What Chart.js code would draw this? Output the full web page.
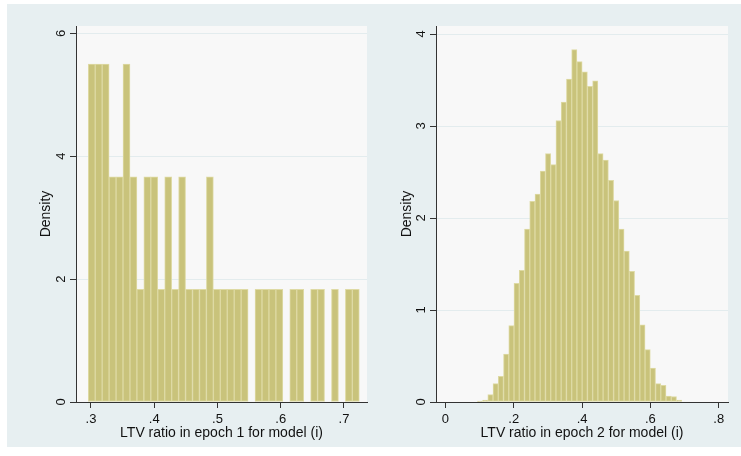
<!DOCTYPE html>
<html>
<head>
<meta charset="utf-8">
<script src="https://cdn.jsdelivr.net/npm/chart.js@4.4.1/dist/chart.umd.min.js"></script>
<style>
  html, body { margin: 0; padding: 0; background: #ffffff; }
  #frame { position: absolute; left: 7px; top: 4px; width: 734px; height: 443px; background: #e7eff1; }
  canvas { position: absolute; top: 4px; }
  #left { left: 7px; }
  #right { left: 370px; }
</style>
</head>
<body>
<div id="frame"></div>
<canvas id="left" width="363" height="443"></canvas>
<canvas id="right" width="371" height="443"></canvas>
<script>
// Epoch 1 histogram: 39 bins, density per bin
const epoch1Start = 0.2957;
const epoch1Width = 0.010987;
const epoch1Density = [5.5, 5.5, 5.5, 3.667, 3.667, 5.5, 3.667, 1.833, 3.667, 3.667,
  1.833, 3.667, 1.833, 3.667, 1.833, 1.833, 1.833, 3.667, 1.833, 1.833,
  1.833, 1.833, 1.833, 0, 1.833, 1.833, 1.833, 1.833, 0, 1.833,
  1.833, 0, 1.833, 1.833, 0, 1.833, 0, 1.833, 1.833];
const epoch1XTicks = [0.3, 0.4, 0.5, 0.6, 0.7];
const epoch1XLabels = ['.3', '.4', '.5', '.6', '.7'];
const epoch1YTicks = [0, 2, 4, 6];
const epoch1YLabels = ['0', '2', '4', '6'];

// Epoch 2 histogram: 39 bins, density per bin
const epoch2Start = 0.0934;
const epoch2Width = 0.01534;
const epoch2Density = [0.01, 0.02, 0.08, 0.20, 0.28, 0.52, 0.83, 1.29, 1.43, 1.88,
  2.18, 2.26, 2.51, 2.70, 2.58, 3.06, 3.26, 3.51, 3.83, 3.70,
  3.59, 3.43, 3.49, 2.70, 2.63, 2.41, 2.19, 1.88, 1.64, 1.42,
  1.16, 0.84, 0.57, 0.37, 0.20, 0.18, 0.065, 0.06, 0.02];
const epoch2XTicks = [0, 0.2, 0.4, 0.6, 0.8];
const epoch2XLabels = ['0', '.2', '.4', '.6', '.8'];
const epoch2YTicks = [0, 1, 2, 3, 4];
const epoch2YLabels = ['0', '1', '2', '3', '4'];

const FONT = 'Liberation Sans, Arial, sans-serif';

// light plot region behind the bars
const plotBg = {
  id: 'plotBg',
  beforeDraw(chart) {
    const { ctx, chartArea: a } = chart;
    ctx.save();
    ctx.fillStyle = '#f8f8f8';
    ctx.fillRect(a.left, a.top, a.right - a.left, a.bottom - a.top);
    ctx.restore();
  }
};

function binPoints(start, width, values) {
  return values.map((v, i) => ({ x: start + (i + 0.5) * width, y: v }));
}

function makeHist(canvasId, opts) {
  return new Chart(document.getElementById(canvasId), {
    type: 'bar',
    data: {
      datasets: [{
        data: binPoints(opts.start, opts.width, opts.density),
        backgroundColor: '#c9c37b',
        borderColor: '#dedaa4',
        borderWidth: 1,
        borderSkipped: false,
        barPercentage: 1,
        categoryPercentage: 1
      }]
    },
    options: {
      responsive: false,
      animation: false,
      devicePixelRatio: 1,
      layout: { padding: { top: 22, right: opts.padRight, left: 0, bottom: 0 } },
      plugins: { legend: { display: false }, tooltip: { enabled: false } },
      scales: {
        x: {
          type: 'linear',
          offset: false,
          min: opts.xMin,
          max: opts.xMax,
          afterFit: s => { s.height = 45; },
          afterBuildTicks: s => { s.ticks = opts.xTicks.map(v => ({ value: v })); },
          grid: { offset: false, drawOnChartArea: false, drawTicks: true, tickLength: 6, tickColor: '#333' },
          border: { display: true, color: '#333', width: 1 },
          ticks: {
            autoSkip: false, maxRotation: 0, padding: 4, color: '#111',
            font: { family: FONT, size: 13 },
            callback: (v) => opts.xLabels[opts.xTicks.findIndex(t => Math.abs(t - v) < 1e-6)]
          },
          title: {
            display: true, text: opts.xTitle, color: '#111',
            font: { family: FONT, size: 14 }, padding: { top: 0, bottom: 5 }
          }
        },
        y: {
          type: 'linear',
          min: 0,
          max: opts.yMax,
          afterFit: s => { s.width = opts.yWidth; },
          afterBuildTicks: s => { s.ticks = opts.yTicks.map(v => ({ value: v })); },
          grid: { color: '#e3ecee', lineWidth: 1, drawTicks: true, tickLength: 6, tickColor: '#333' },
          border: { display: true, color: '#333', width: 1 },
          ticks: {
            minRotation: 90, maxRotation: 90, crossAlign: 'center', padding: 5, color: '#111',
            font: { family: FONT, size: 13 },
            callback: (v) => opts.yLabels[opts.yTicks.indexOf(v)]
          },
          title: {
            display: true, text: 'Density', color: '#111',
            font: { family: FONT, size: 14 }, padding: { top: opts.yTitlePad, bottom: 0 }
          }
        }
      }
    },
    plugins: [plotBg]
  });
}

makeHist('left', {
  start: epoch1Start, width: epoch1Width, density: epoch1Density,
  xMin: 0.2763, xMax: 0.7364, yMax: 6.12,
  xTicks: epoch1XTicks, xLabels: epoch1XLabels,
  yTicks: epoch1YTicks, yLabels: epoch1YLabels,
  xTitle: 'LTV ratio in epoch 1 for model (i)',
  yWidth: 69, padRight: 3, yTitlePad: 31
});

makeHist('right', {
  start: epoch2Start, width: epoch2Width, density: epoch2Density,
  xMin: -0.0275, xMax: 0.827, yMax: 4.087,
  xTicks: epoch2XTicks, xLabels: epoch2XLabels,
  yTicks: epoch2YTicks, yLabels: epoch2YLabels,
  xTitle: 'LTV ratio in epoch 2 for model (i)',
  yWidth: 66, padRight: 13, yTitlePad: 29
});
</script>
</body>
</html>
